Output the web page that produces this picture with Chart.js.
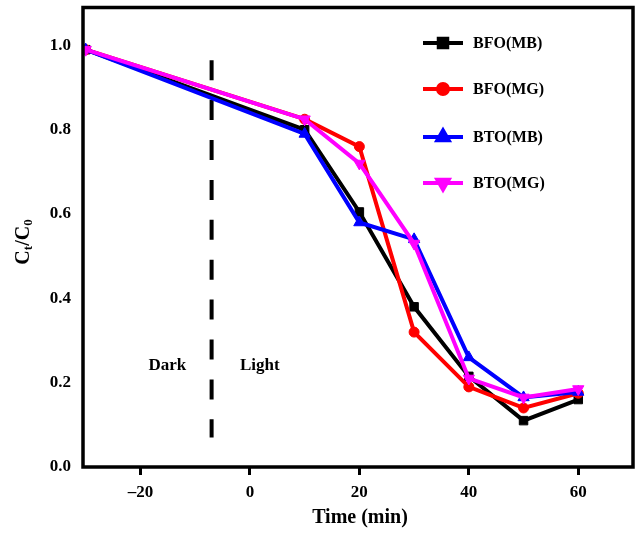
<!DOCTYPE html>
<html>
<head>
<meta charset="utf-8">
<script src="https://cdn.jsdelivr.net/npm/chart.js@4/dist/chart.umd.min.js"></script>
<style>
  html, body { margin: 0; padding: 0; background: #fff; }
  #wrap { width: 641px; height: 535px; }
</style>
</head>
<body>
<div id="wrap"><canvas id="c" width="641" height="535"></canvas></div>
<script>
// ---- data ----
const times = [-30, 10, 20, 30, 40, 50, 60];
const bfoMB = [0.99, 0.80, 0.605, 0.38, 0.215, 0.11, 0.16];
const bfoMG = [0.99, 0.825, 0.76, 0.32, 0.19, 0.14, 0.175];
const btoMB = [0.99, 0.79, 0.58, 0.54, 0.26, 0.165, 0.178];
const btoMG = [0.99, 0.825, 0.72, 0.53, 0.21, 0.165, 0.185];
const seriesLabels = ['BFO(MB)', 'BFO(MG)', 'BTO(MB)', 'BTO(MG)'];
const darkLightBoundary = -7;
const regionLabels = ['Dark', 'Light'];
const xTickValues = [-20, 0, 20, 40, 60];
const yTickValues = [0.0, 0.2, 0.4, 0.6, 0.8, 1.0];

const FONT = '"Liberation Serif", "Times New Roman", serif';

function pts(ys) { return times.map((t, i) => ({ x: t, y: ys[i] })); }

const styles = [
  { color: '#000000', pointStyle: 'rect', radius: 6, rotation: 0, order: 4 },
  { color: '#ff0000', pointStyle: 'circle', radius: 5, rotation: 0, order: 3 },
  { color: '#0000ff', pointStyle: 'triangle', radius: 6.5, rotation: 0, order: 2 },
  { color: '#ff00ff', pointStyle: 'triangle', radius: 6.5, rotation: 180, order: 1 }
];
const allSeries = [bfoMB, bfoMG, btoMB, btoMG];

const datasets = allSeries.map((s, i) => ({
  label: seriesLabels[i],
  data: pts(s),
  borderColor: styles[i].color,
  backgroundColor: styles[i].color,
  borderWidth: 4,
  pointStyle: styles[i].pointStyle,
  pointRadius: styles[i].radius,
  pointRotation: styles[i].rotation,
  pointBorderWidth: 1,
  pointBackgroundColor: styles[i].color,
  pointBorderColor: styles[i].color,
  tension: 0,
  order: styles[i].order
}));

const decorPlugin = {
  id: 'decor',
  beforeDatasetsDraw(chart) {
    const ctx = chart.ctx;
    const xs = chart.scales.x, ys = chart.scales.y;
    // dashed dark/light boundary
    ctx.save();
    ctx.strokeStyle = '#000';
    ctx.lineWidth = 4;
    ctx.setLineDash([20, 19.9]);
    const bx = xs.getPixelForValue(darkLightBoundary);
    ctx.beginPath();
    ctx.moveTo(bx, ys.getPixelForValue(0.965));
    ctx.lineTo(bx, ys.getPixelForValue(0.07));
    ctx.stroke();
    ctx.restore();
    // region labels
    ctx.save();
    ctx.fillStyle = '#000';
    ctx.font = 'bold 17px ' + FONT;
    ctx.textAlign = 'center';
    ctx.textBaseline = 'middle';
    const ly = ys.getPixelForValue(0.24);
    ctx.fillText(regionLabels[0], xs.getPixelForValue(-15.1), ly);
    ctx.fillText(regionLabels[1], xs.getPixelForValue(1.8), ly);
    ctx.restore();
  },
  afterDraw(chart) {
    const ctx = chart.ctx;
    const a = chart.chartArea;
    // frame
    ctx.save();
    ctx.strokeStyle = '#000';
    ctx.lineWidth = 3.5;
    ctx.strokeRect(a.left, a.top, a.right - a.left, a.bottom - a.top);
    ctx.restore();
    // legend
    ctx.save();
    const rows = [43, 89, 137, 183];
    chart.data.datasets.forEach((ds, i) => {
      const y = rows[i];
      ctx.strokeStyle = ds.borderColor;
      ctx.lineWidth = 4;
      ctx.beginPath();
      ctx.moveTo(423, y);
      ctx.lineTo(463, y);
      ctx.stroke();
      ctx.fillStyle = ds.borderColor;
      Chart.helpers.drawPoint(ctx, {
        pointStyle: ds.pointStyle, radius: ds.pointRadius, rotation: ds.pointRotation, borderWidth: 1
      }, 443, y);
      ctx.fill();
      ctx.fillStyle = '#000';
      ctx.font = 'bold 16px ' + FONT;
      ctx.textAlign = 'left';
      ctx.textBaseline = 'middle';
      ctx.fillText(ds.label, 473, y + 1);
    });
    ctx.restore();
    // axis titles
    ctx.save();
    ctx.fillStyle = '#000';
    ctx.font = 'bold 20px ' + FONT;
    ctx.textAlign = 'center';
    ctx.textBaseline = 'middle';
    ctx.fillText('Time (min)', 360, 518);
    // y title: C_t/C_0 rotated
    ctx.translate(24, 242);
    ctx.rotate(-Math.PI / 2);
    const big = 'bold 20px ' + FONT, small = 'bold 13px ' + FONT;
    const parts = [['C', big, 0], ['t', small, 5], ['/C', big, 0], ['0', small, 5]];
    let total = 0;
    parts.forEach(p => { ctx.font = p[1]; total += ctx.measureText(p[0]).width; });
    let x = -total / 2;
    ctx.textAlign = 'left';
    parts.forEach(p => {
      ctx.font = p[1];
      ctx.fillText(p[0], x, p[2]);
      x += ctx.measureText(p[0]).width;
    });
    ctx.restore();
  }
};

new Chart(document.getElementById('c'), {
  type: 'line',
  data: { datasets },
  options: {
    responsive: false,
    animation: false,
    devicePixelRatio: 1,
    layout: { padding: { top: 5, right: 8, left: 0, bottom: 0 } },
    plugins: { legend: { display: false }, tooltip: { enabled: false }, title: { display: false } },
    scales: {
      x: {
        type: 'linear',
        min: -30.5,
        max: 70,
        afterFit(scale) { scale.height = 68; scale.paddingLeft = 0; scale.paddingRight = 0; },
        afterBuildTicks(scale) { scale.ticks = xTickValues.map(v => ({ value: v })); },
        ticks: {
          color: '#000',
          font: { family: FONT, size: 17, weight: 'bold' },
          padding: 7,
          maxRotation: 0,
          callback: v => (v < 0 ? '\u2013' + Math.abs(v) : String(v))
        },
        grid: { display: true, drawOnChartArea: false, drawTicks: true, tickLength: 8, tickWidth: 3, tickColor: '#000' },
        border: { display: false },
        title: { display: false }
      },
      y: {
        type: 'linear',
        min: 0,
        max: 1.09,
        afterFit(scale) { scale.width = 83; scale.paddingTop = 0; scale.paddingBottom = 0; },
        afterBuildTicks(scale) { scale.ticks = yTickValues.map(v => ({ value: v })); },
        ticks: {
          color: '#000',
          font: { family: FONT, size: 17, weight: 'bold' },
          padding: 12,
          callback: v => Number(v).toFixed(1)
        },
        grid: { display: false, drawTicks: false },
        border: { display: false },
        title: { display: false }
      }
    }
  },
  plugins: [decorPlugin]
});
</script>
</body>
</html>
